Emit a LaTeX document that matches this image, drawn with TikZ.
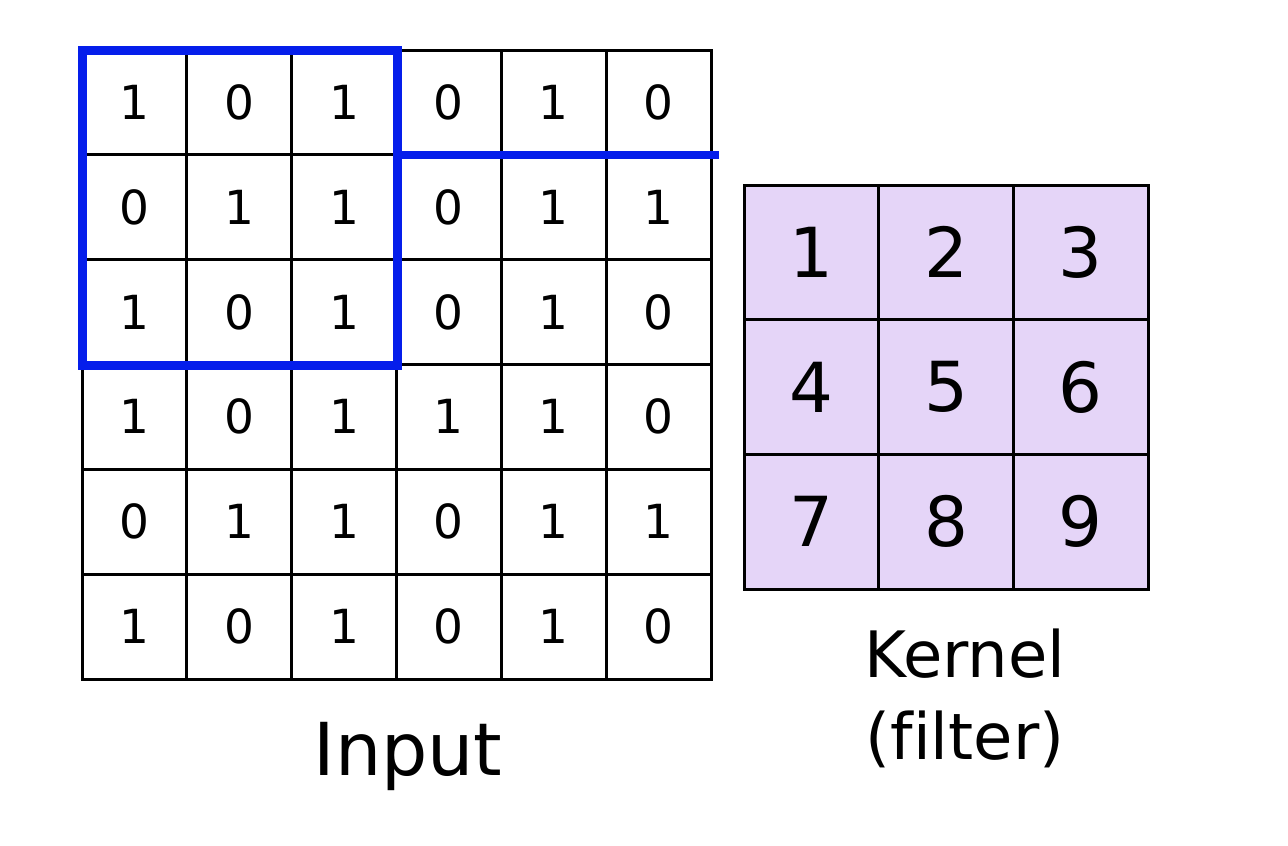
\documentclass[tikz,border=0pt]{standalone}
\usepackage{fontspec}
\setmainfont[Ligatures=NoCommon]{DejaVu Sans}
\usetikzlibrary{positioning}
\definecolor{slideblue}{RGB}{5,30,235}
\definecolor{kernfill}{RGB}{229,213,248}
\tikzset{
    digit/.style = {inner sep=0pt, font=\fontsize{47}{56}\selectfont},
    kdigit/.style = {inner sep=0pt, font=\fontsize{69}{80}\selectfont},
    caption/.style = {inner sep=0pt, anchor=base}
}

\begin{document}
\begin{tikzpicture}[x=1pt, y=-1pt, line width=3pt]
        \tikzstyle{win}=[draw=slideblue, line width=9pt]
        \fill[white] (0,0) rectangle (1288,846);
        \useasboundingbox (0,0) rectangle (1288,846);
        % input grid
        \draw (82,50) rectangle (711,679);
        \foreach \i in {1,...,5} {
            \draw (82+\i*104.8,50) -- (82+\i*104.8,679);
            \draw (82,50+\i*104.8) -- (711,50+\i*104.8);
        }
        \foreach \row [count=\r from 0] in {{1,0,1,0,1,0},{0,1,1,0,1,1},{1,0,1,0,1,0},{1,0,1,1,1,0},{0,1,1,0,1,1},{1,0,1,0,1,0}}
            \foreach \v [count=\c from 0] in \row
                \node[digit] (in-\r-\c) at (134.4+\c*104.8,102.4+\r*104.8) {\v};
        % sliding window
        \draw[win] (82,50) rectangle (397,365);
        \draw[slideblue, line width=8pt] (397,155) -- (719,155);
        % kernel
        \fill[kernfill] (744,185) rectangle (1148,589);
        \draw (744,185) rectangle (1148,589);
        \foreach \i in {1,2} {
            \draw (744+\i*134.7,185) -- (744+\i*134.7,589);
            \draw (744,185+\i*134.7) -- (1148,185+\i*134.7);
        }
        \foreach \r in {0,1,2}
            \foreach \c in {0,1,2} {
                \pgfmathtruncatemacro{\n}{3*\r+\c+1}
                \node[kdigit] (k-\r-\c) at (811.3+\c*134.7,252.3+\r*134.7) {\n};
            }
        % labels
        \node[caption, font=\fontsize{73}{80}\selectfont] (input) at (408,775) {Input};
        \node[caption, font=\fontsize{64}{76}\selectfont] (kernel) at (965,677) {Kernel};
        \node[caption, font=\fontsize{64}{76}\selectfont] (filter) at ([yshift=-82pt]kernel.base) {(filter)};
\end{tikzpicture}
\end{document}
